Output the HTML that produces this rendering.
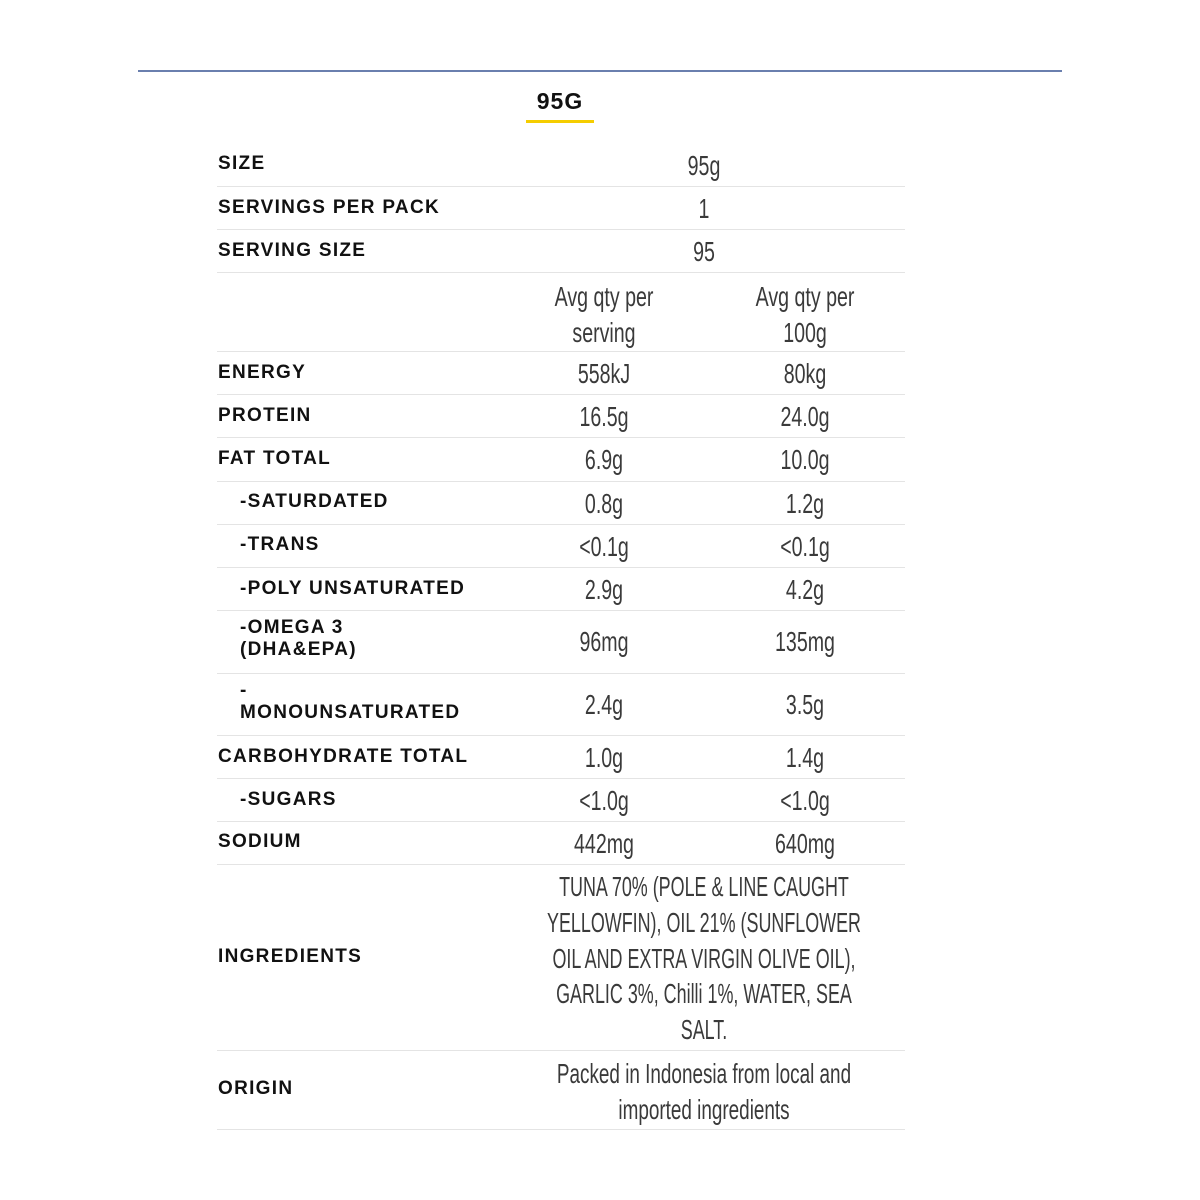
<!DOCTYPE html>
<html><head><meta charset="utf-8"><style>
body{margin:0;background:#fff;width:1200px;height:1200px;position:relative;overflow:hidden}
.l{position:absolute;left:218px;font:bold 19px "Liberation Sans",sans-serif;color:#111;letter-spacing:1.3px;line-height:22px;white-space:nowrap}
.v{position:absolute;width:260px;text-align:center;font:28px "Liberation Sans Narrow","Liberation Sans",sans-serif;color:#3a3a3a;line-height:36px;transform:scaleX(0.7);white-space:nowrap}
.s{position:absolute;left:217px;width:688px;height:1px;background:#e4e4e4}
</style></head><body>
<div style="position:absolute;left:138px;top:70px;width:924px;height:2px;background:#6a7fae"></div>
<div style="position:absolute;left:516px;top:88px;width:88px;text-align:center;font:bold 23px 'Liberation Sans',sans-serif;color:#111;letter-spacing:1px">95G</div>
<div style="position:absolute;left:526px;top:120px;width:68px;height:3px;background:#f5cd00"></div>

<div class="l" style="top:153px">SIZE</div><div class="v" style="left:574px;top:148px">95g</div>
<div class="s" style="top:186px"></div>
<div class="l" style="top:197px">SERVINGS PER PACK</div><div class="v" style="left:574px;top:191px">1</div>
<div class="s" style="top:229px"></div>
<div class="l" style="top:240px">SERVING SIZE</div><div class="v" style="left:574px;top:234px">95</div>
<div class="s" style="top:272px"></div>
<div class="v" style="left:474px;top:279px">Avg qty per<br>serving</div><div class="v" style="left:675px;top:279px">Avg qty per<br>100g</div>
<div class="s" style="top:351px"></div>
<div class="l" style="top:362px">ENERGY</div><div class="v" style="left:474px;top:356px">558kJ</div><div class="v" style="left:675px;top:356px">80kg</div>
<div class="s" style="top:394px"></div>
<div class="l" style="top:405px">PROTEIN</div><div class="v" style="left:474px;top:399px">16.5g</div><div class="v" style="left:675px;top:399px">24.0g</div>
<div class="s" style="top:437px"></div>
<div class="l" style="top:448px">FAT TOTAL</div><div class="v" style="left:474px;top:442px">6.9g</div><div class="v" style="left:675px;top:442px">10.0g</div>
<div class="s" style="top:481px"></div>
<div class="l" style="top:491px;left:240px">-SATURDATED</div><div class="v" style="left:474px;top:486px">0.8g</div><div class="v" style="left:675px;top:486px">1.2g</div>
<div class="s" style="top:524px"></div>
<div class="l" style="top:534px;left:240px">-TRANS</div><div class="v" style="left:474px;top:529px">&lt;0.1g</div><div class="v" style="left:675px;top:529px">&lt;0.1g</div>
<div class="s" style="top:567px"></div>
<div class="l" style="top:578px;left:240px">-POLY UNSATURATED</div><div class="v" style="left:474px;top:572px">2.9g</div><div class="v" style="left:675px;top:572px">4.2g</div>
<div class="s" style="top:610px"></div>
<div class="l" style="top:617px;left:240px">-OMEGA 3<br>(DHA&amp;EPA)</div><div class="v" style="left:474px;top:624px">96mg</div><div class="v" style="left:675px;top:624px">135mg</div>
<div class="s" style="top:673px"></div>
<div class="l" style="top:680px;left:240px">-<br>MONOUNSATURATED</div><div class="v" style="left:474px;top:687px">2.4g</div><div class="v" style="left:675px;top:687px">3.5g</div>
<div class="s" style="top:735px"></div>
<div class="l" style="top:746px">CARBOHYDRATE TOTAL</div><div class="v" style="left:474px;top:740px">1.0g</div><div class="v" style="left:675px;top:740px">1.4g</div>
<div class="s" style="top:778px"></div>
<div class="l" style="top:789px;left:240px">-SUGARS</div><div class="v" style="left:474px;top:783px">&lt;1.0g</div><div class="v" style="left:675px;top:783px">&lt;1.0g</div>
<div class="s" style="top:821px"></div>
<div class="l" style="top:831px">SODIUM</div><div class="v" style="left:474px;top:826px">442mg</div><div class="v" style="left:675px;top:826px">640mg</div>
<div class="s" style="top:864px"></div>
<div class="l" style="top:946px">INGREDIENTS</div>
<div class="v" style="left:404px;width:600px;top:869px;line-height:35.8px;transform:scaleX(0.64)">TUNA 70% (POLE &amp; LINE CAUGHT<br>YELLOWFIN), OIL 21% (SUNFLOWER<br>OIL AND EXTRA VIRGIN OLIVE OIL),<br>GARLIC 3%, Chilli 1%, WATER, SEA<br>SALT.</div>
<div class="s" style="top:1050px"></div>
<div class="l" style="top:1078px">ORIGIN</div>
<div class="v" style="left:404px;width:600px;top:1056px;transform:scaleX(0.675)">Packed in Indonesia from local and<br>imported ingredients</div>
<div class="s" style="top:1129px"></div>
</body></html>
